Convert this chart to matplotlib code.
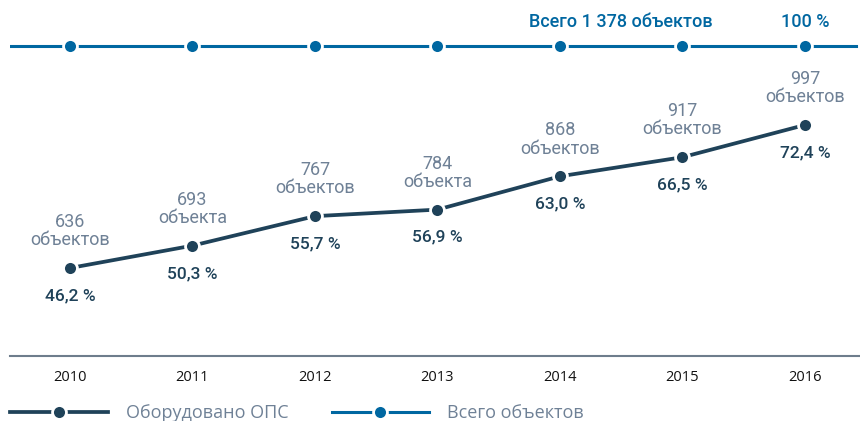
import matplotlib
matplotlib.use('Agg')
import matplotlib.pyplot as plt
from matplotlib.lines import Line2D

years = [2010, 2011, 2012, 2013, 2014, 2015, 2016]
equipped = [636, 693, 767, 784, 868, 917, 997]
equipped_pct = [46.2, 50.3, 55.7, 56.9, 63.0, 66.5, 72.4]
word = ['объектов', 'объекта', 'объектов', 'объекта', 'объектов', 'объектов', 'объектов']
pct_labels = ['46,2 %', '50,3 %', '55,7 %', '56,9 %', '63,0 %', '66,5 %', '72,4 %']
totals = [1378] * 7
total_label = 'Всего 1 378 объектов'
total_pct_label = '100 %'

dark = '#1f4259'
blue = '#0067a1'
grey = '#6f8196'
axis_grey = '#6e7d8c'
label_font = 'Roboto'
body_font = 'Open Sans'

fig = plt.figure(figsize=(8.6, 4.21), dpi=100)
ax = fig.add_axes([10 / 860, 65 / 421, 850 / 860, 356 / 421])
ax.set_xlim(2009.51, 2016.45)
ax.set_ylim(30.08, 95.3)

ax.plot(years, equipped_pct, color=dark, lw=2.7, marker='o', ms=10,
        mfc=dark, mec='white', mew=2, zorder=3)

for x, y, n, w, p in zip(years, equipped_pct, equipped, word, pct_labels):
    ax.annotate(str(n), (x, y), xytext=(0, 33), textcoords='offset points',
                ha='center', va='center', fontsize=13, color=grey, family=label_font)
    ax.annotate(w, (x, y), xytext=(0, 20), textcoords='offset points',
                ha='center', va='center', fontsize=13, color=grey, family=label_font)
    ax.annotate(p, (x, y), xytext=(0, -20), textcoords='offset points',
                ha='center', va='center', fontsize=12.5, color=dark,
                family=label_font, fontweight='medium')

# total objects line on its own scale, pinned near the top
ax2 = ax.twinx()
ax2.set_ylim(0, 1378 / 0.871)
ax2.plot([2009.5, 2016.42], [totals[0], totals[-1]], color=blue, lw=2.2, zorder=1)
ax2.plot(years, totals, ls='none', marker='o', ms=10, mfc=blue, mec='white', mew=2, zorder=3)
ax2.annotate(total_label, ((years[4] + years[5]) / 2, totals[0]), xytext=(0, 17),
             textcoords='offset points', ha='center', va='center', fontsize=13,
             color=blue, family=label_font, fontweight='medium')
ax2.annotate(total_pct_label, (years[-1], totals[-1]), xytext=(0, 17),
             textcoords='offset points', ha='center', va='center', fontsize=13,
             color=blue, family=label_font, fontweight='medium')

for a in (ax, ax2):
    for s in ('top', 'right', 'left'):
        a.spines[s].set_visible(False)
    a.set_yticks([])
ax2.spines['bottom'].set_visible(False)
ax.spines['bottom'].set_color(axis_grey)
ax.spines['bottom'].set_linewidth(1.5)
ax.set_xticks(years)
ax.set_xticklabels([str(y) for y in years], fontsize=10.5, family=body_font, color='#111111')
ax.tick_params(axis='x', length=0, pad=10)

handles = [
    Line2D([], [], color=dark, lw=2.7, marker='o', ms=10, mfc=dark, mec='white', mew=2),
    Line2D([], [], color=blue, lw=2.2, marker='o', ms=10, mfc=blue, mec='white', mew=2),
]
fig.legend(handles, ['Оборудовано ОПС', 'Всего объектов'], loc='center left',
           bbox_to_anchor=(10 / 860, 8 / 421), ncol=2, frameon=False, numpoints=1,
           handlelength=5.4, handletextpad=1.0, columnspacing=2.4, borderpad=0,
           borderaxespad=0, prop={'family': body_font, 'size': 13},
           labelcolor=grey)

fig.savefig('out.png', dpi=100)
